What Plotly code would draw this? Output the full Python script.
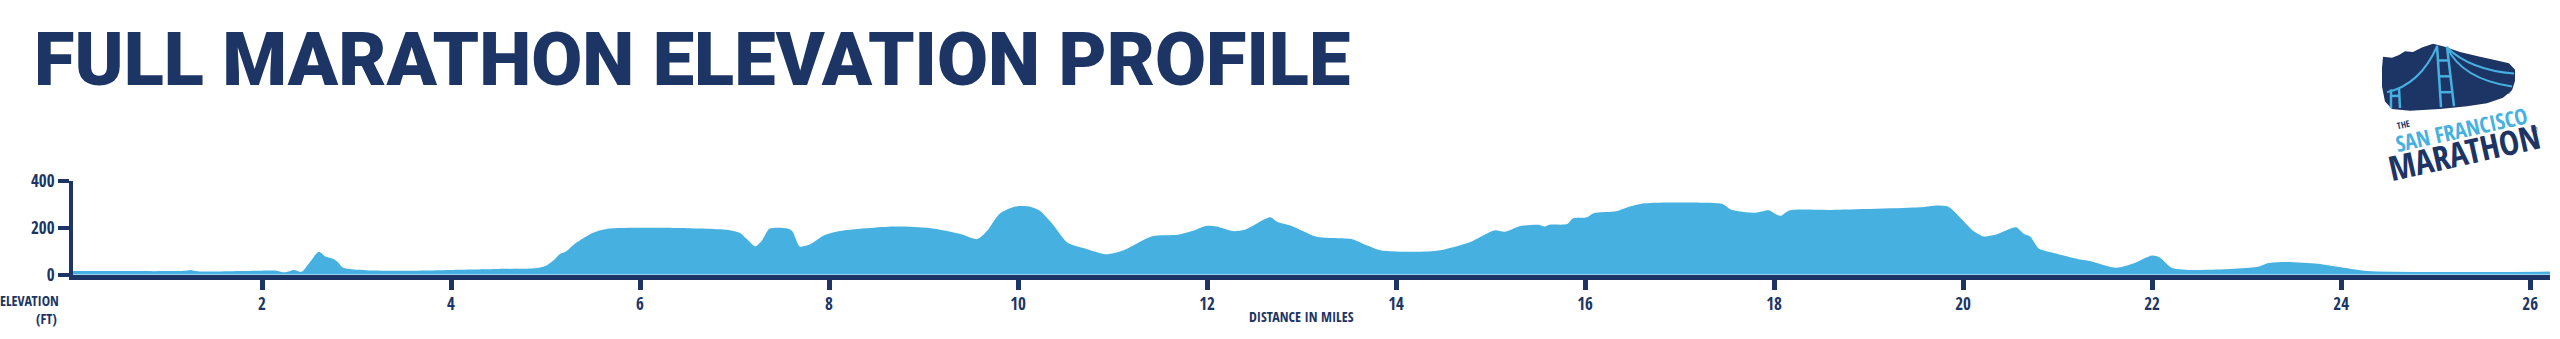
import plotly.graph_objects as go

# Canvas size in pixels
W, H = 2560, 339

NAVY = "#1c3565"
SKY = "#46b1e1"

# Course elevation profile: distance (miles) and elevation (feet)
miles = [
    0.0, 0.5, 1.0, 1.18, 1.24, 1.32, 1.5, 1.8, 2.0, 2.15, 2.24, 2.34, 2.42,
    2.5, 2.6, 2.67, 2.75, 2.8, 2.86, 3.1, 3.6, 4.0, 4.5, 4.88, 5.0, 5.08,
    5.15, 5.22, 5.32, 5.51, 5.66, 6.04, 6.42, 6.95, 7.06, 7.13, 7.22, 7.29,
    7.37, 7.55, 7.61, 7.69, 7.80, 7.95, 8.12, 8.68, 9.06, 9.40, 9.57, 9.67,
    9.80, 9.97, 10.12, 10.23, 10.37, 10.52, 10.71, 10.93, 11.12, 11.42,
    11.69, 11.84, 11.99, 12.10, 12.27, 12.40, 12.67, 12.74, 12.89, 13.16,
    13.53, 13.65, 13.83, 14.21, 14.47, 14.78, 15.04, 15.15, 15.30, 15.51,
    15.57, 15.62, 15.81, 15.87, 16.02, 16.09, 16.33, 16.45, 16.63, 17.31,
    17.46, 17.54, 17.80, 17.95, 18.01, 18.07, 18.16, 18.60, 19.54, 19.73,
    19.84, 19.96, 20.11, 20.22, 20.34, 20.56, 20.64, 20.71, 20.80, 20.97,
    21.24, 21.35, 21.62, 21.80, 22.0, 22.08, 22.22, 23.12, 23.23, 23.37,
    23.75, 24.0, 24.28, 26.21,
]
elevation_ft = [
    16, 16, 16, 17, 21, 15, 14, 16, 18, 18, 11, 21, 13,
    50, 98, 78, 68, 55, 30, 20, 18, 21, 25, 28, 38, 60,
    88, 100, 135, 180, 196, 200, 199, 190, 178, 152, 121, 146,
    196, 198, 186, 121, 130, 168, 186, 205, 199, 173, 152, 186,
    258, 290, 290, 272, 213, 138, 112, 88, 105, 164,
    170, 186, 208, 205, 186, 192, 245, 226, 209, 162,
    152, 132, 105, 98, 105, 139, 189, 183, 206, 213,
    205, 213, 216, 240, 245, 262, 270, 287, 304, 306,
    300, 278, 264, 274, 260, 251, 274, 276, 287, 295,
    290, 247, 186, 163, 170, 202, 175, 163, 112, 92,
    65, 58, 30, 48, 82, 74, 28, 34, 50, 55,
    47, 32, 16, 14,
]

mile_ticks = list(range(2, 27, 2))
elev_ticks = [0, 200, 400]

TITLE_TEXT = "FULL MARATHON ELEVATION PROFILE"
X_LABEL = "DISTANCE IN MILES"
Y_LABEL_TOP = "ELEVATION"
Y_LABEL_BOTTOM = "(FT)"

LABEL_FONT = "Open Sans Condensed, Roboto Condensed, sans-serif"
TITLE_FONT = "Roboto, Liberation Sans, sans-serif"


def px(x):
    return x / W


def py(y):
    return 1 - y / H


def path_from(points, close=True):
    parts = [f"{'M' if i == 0 else 'L'} {px(x):.5f} {py(y):.5f}" for i, (x, y) in enumerate(points)]
    return " ".join(parts) + (" Z" if close else "")


fig = go.Figure()
fig.add_trace(go.Scatter(
    x=miles, y=elevation_ft, mode="lines",
    line=dict(color=SKY, width=0, shape="spline", smoothing=0.7),
    fill="tozeroy", fillcolor=SKY, hoverinfo="skip",
))

axis_font = dict(family=LABEL_FONT, size=17, color=NAVY, weight="bold")

fig.update_layout(
    width=W, height=H,
    margin=dict(l=0, r=0, t=0, b=0),
    paper_bgcolor="white", plot_bgcolor="white",
    showlegend=False,
    xaxis=dict(
        domain=[px(73), px(2550)], range=[0, 26.21],
        showgrid=False, zeroline=False,
        showline=True, linecolor=NAVY, linewidth=5,
        ticks="outside", ticklen=10, tickwidth=5, tickcolor=NAVY,
        tickvals=mile_ticks, tickfont=axis_font, fixedrange=True,
    ),
    yaxis=dict(
        domain=[py(282), py(181)], range=[0, 400],
        showgrid=False, zeroline=False,
        showline=True, linecolor=NAVY, linewidth=4,
        ticks="outside", ticklen=11, tickwidth=4, tickcolor=NAVY,
        tickvals=elev_ticks, tickfont=axis_font, fixedrange=True,
    ),
)

label_font = dict(family=LABEL_FONT, size=14, weight="bold", color=NAVY)

annotations = [
    dict(text=TITLE_TEXT, x=px(32), y=py(51), xanchor="left", yanchor="middle",
         font=dict(family=TITLE_FONT, size=74, weight=900, color=NAVY)),
    dict(text=X_LABEL, x=px(1301), y=py(327), xanchor="center", yanchor="middle", font=label_font),
    dict(text=Y_LABEL_TOP, x=px(61), y=py(309), xanchor="right", yanchor="middle", font=label_font),
    dict(text=Y_LABEL_BOTTOM, x=px(59), y=py(329), xanchor="right", yanchor="middle", font=label_font),
    # logo lettering
    dict(text="THE", x=px(2403), y=py(121), xanchor="center", yanchor="middle", textangle=-12.5,
         font=dict(family=LABEL_FONT, size=9, weight="bold", color=NAVY)),
    dict(text="SAN FRANCISCO", x=px(2461), y=py(125), xanchor="center", yanchor="middle", textangle=-12.5,
         font=dict(family=LABEL_FONT, size=22, weight="bold", color=SKY)),
    dict(text="MARATHON", x=px(2464), y=py(150), xanchor="center", yanchor="middle", textangle=-12.5,
         font=dict(family=LABEL_FONT, size=34, weight="bold", color=NAVY)),
    dict(text="®", x=px(2534), y=py(126), xanchor="center", yanchor="middle",
         font=dict(family=LABEL_FONT, size=8, color=NAVY)),
    dict(text="®", x=px(2508), y=py(85), xanchor="center", yanchor="middle",
         font=dict(family=LABEL_FONT, size=7, color=NAVY)),
]
for a in annotations:
    a.update(xref="paper", yref="paper", showarrow=False)
fig.update_layout(annotations=annotations)

# Logo: shoe silhouette with the bridge drawn across it
shoe = [(2383, 48), (2392, 49), (2399, 46), (2405, 42), (2413, 43), (2422, 38),
        (2433, 34), (2444, 37), (2460, 43), (2480, 48), (2497, 52), (2509, 55),
        (2515, 62), (2515, 74), (2512, 84), (2503, 92), (2487, 98), (2467, 101),
        (2440, 104), (2410, 106), (2392, 104), (2385, 96), (2382, 80), (2382, 60)]
shapes = [dict(type="path", path=path_from(shoe), fillcolor=NAVY, line=dict(width=0))]

bridge_lines = [
    [(2437, 36), (2441, 102)],
    [(2447, 37), (2454, 101)],
    [(2438, 52), (2449, 52)],
    [(2439, 69), (2451, 69)],
    [(2440, 86), (2453, 86)],
    [(2391, 83), (2391, 103)],
    [(2399, 82), (2400, 103)],
    [(2391, 90), (2399, 90)],
]
for seg in bridge_lines:
    shapes.append(dict(type="path", path=path_from(seg, close=False),
                       line=dict(color=SKY, width=2.5)))


def curve(p0, c, p1):
    return (f"M {px(p0[0]):.5f} {py(p0[1]):.5f} Q {px(c[0]):.5f} {py(c[1]):.5f} "
            f"{px(p1[0]):.5f} {py(p1[1]):.5f}")


cables = [
    ((2437, 37), (2420, 78), (2387, 86)),
    ((2447, 38), (2462, 72), (2512, 80)),
    ((2447, 38), (2470, 62), (2514, 66)),
]
for c in cables:
    shapes.append(dict(type="path", path=curve(*c), line=dict(color=SKY, width=2)))

for s in shapes:
    s.update(xref="paper", yref="paper", layer="above")
fig.update_layout(shapes=shapes)

fig.write_html("out.html")
